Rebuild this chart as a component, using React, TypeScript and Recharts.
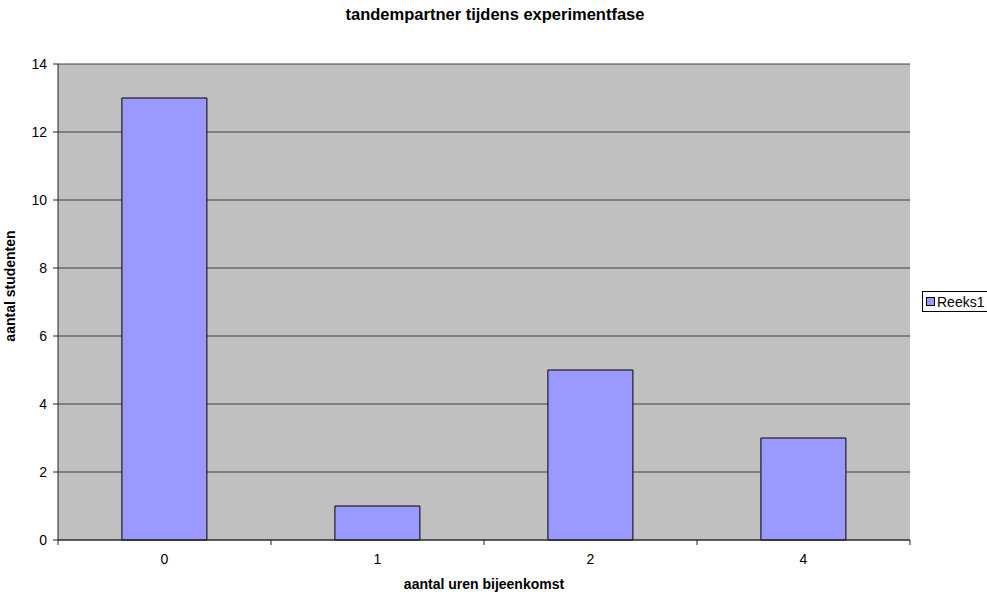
import React from "react";
import {
  BarChart,
  Bar,
  XAxis,
  YAxis,
  CartesianGrid,
} from "recharts";

const uren = ["0", "1", "2", "4"];
const studenten = [13, 1, 5, 3];
const yTicks = [0, 2, 4, 6, 8, 10, 12, 14];
const reeksNaam = "Reeks1";

const data = uren.map((u, i) => ({ uren: u, [reeksNaam]: studenten[i] }));

const FONT = "Arial, 'Liberation Sans', sans-serif";
const BAR_FILL = "#9999FF";

// category ticks sit on the band edges, labels in the middle
function UrenTick(props: any) {
  const { x, y, payload, index, visibleTicksCount } = props;
  const half = payload.offset ?? 0;
  const axisY = y - 14;
  const isLast = index === (visibleTicksCount ?? uren.length) - 1;
  return (
    <g>
      <line x1={x - half} y1={axisY} x2={x - half} y2={axisY + 5} stroke="#222" />
      {isLast && (
        <line x1={x + half} y1={axisY} x2={x + half} y2={axisY + 5} stroke="#222" />
      )}
      <text
        x={x}
        y={y}
        dy="0.71em"
        textAnchor="middle"
        fill="#000"
        fontSize={14}
        fontFamily={FONT}
      >
        {payload.value}
      </text>
    </g>
  );
}

function ReeksLegend() {
  return (
    <div
      style={{
        position: "absolute",
        left: 922,
        top: 291,
        border: "1px solid #000",
        background: "#fff",
        height: 19,
        width: 70,
        display: "flex",
        alignItems: "center",
        fontFamily: FONT,
        fontSize: 14,
        color: "#000",
      }}
    >
      <span
        style={{
          display: "inline-block",
          width: 7,
          height: 7,
          background: BAR_FILL,
          border: "1px solid #000",
          marginLeft: 3,
          marginRight: 2,
        }}
      />
      <span>{reeksNaam}</span>
    </div>
  );
}

export default function App() {
  return (
    <div
      style={{
        position: "absolute",
        left: 0,
        top: 0,
        width: 987,
        height: 592,
        background: "#fff",
        fontFamily: FONT,
        overflow: "hidden",
      }}
    >
      <div
        style={{
          position: "absolute",
          top: 5,
          left: 0,
          width: 990,
          textAlign: "center",
          fontWeight: "bold",
          fontSize: 16.5,
          color: "#000",
        }}
      >
        tandempartner tijdens experimentfase
      </div>
      <BarChart
        width={987}
        height={592}
        data={data}
        margin={{ top: 64, right: 77, left: 0, bottom: 0 }}
        barCategoryGap="30%"
      >
        <CartesianGrid
          vertical={false}
          fill="#C0C0C0"
          stroke="#404040"
          strokeOpacity={1}
          fillOpacity={1}
        />
        <XAxis
          dataKey="uren"
          height={52}
          tickSize={5}
          tickMargin={9}
          tickLine={false}
          axisLine={{ stroke: "#222" }}
          tick={<UrenTick />}
          interval={0}
          label={{
            value: "aantal uren bijeenkomst",
            position: "insideBottom",
            offset: 3,
            fill: "#000",
            fontSize: 14,
            fontWeight: "bold",
            fontFamily: FONT,
          }}
        />
        <YAxis
          width={58}
          domain={[0, 14]}
          ticks={yTicks}
          interval={0}
          tickSize={5}
          tickMargin={6}
          tickLine={{ stroke: "#222" }}
          axisLine={{ stroke: "#222" }}
          tick={{ fill: "#000", fontSize: 14, fontFamily: FONT }}
          label={{
            value: "aantal studenten",
            angle: -90,
            position: "insideLeft",
            offset: 10,
            dy: -16,
            dx: 0,
            fill: "#000",
            fontSize: 14,
            fontWeight: "bold",
            fontFamily: FONT,
            style: { textAnchor: "middle" },
          }}
        />
        <YAxis
          yAxisId="rand"
          orientation="right"
          width={0}
          domain={[0, 14]}
          tick={false}
          tickLine={false}
          axisLine={{ stroke: "#808080" }}
        />
        <Bar
          dataKey={reeksNaam}
          fill={BAR_FILL}
          stroke="#000"
          strokeWidth={1}
          isAnimationActive={false}
        />
      </BarChart>
      <ReeksLegend />
    </div>
  );
}
